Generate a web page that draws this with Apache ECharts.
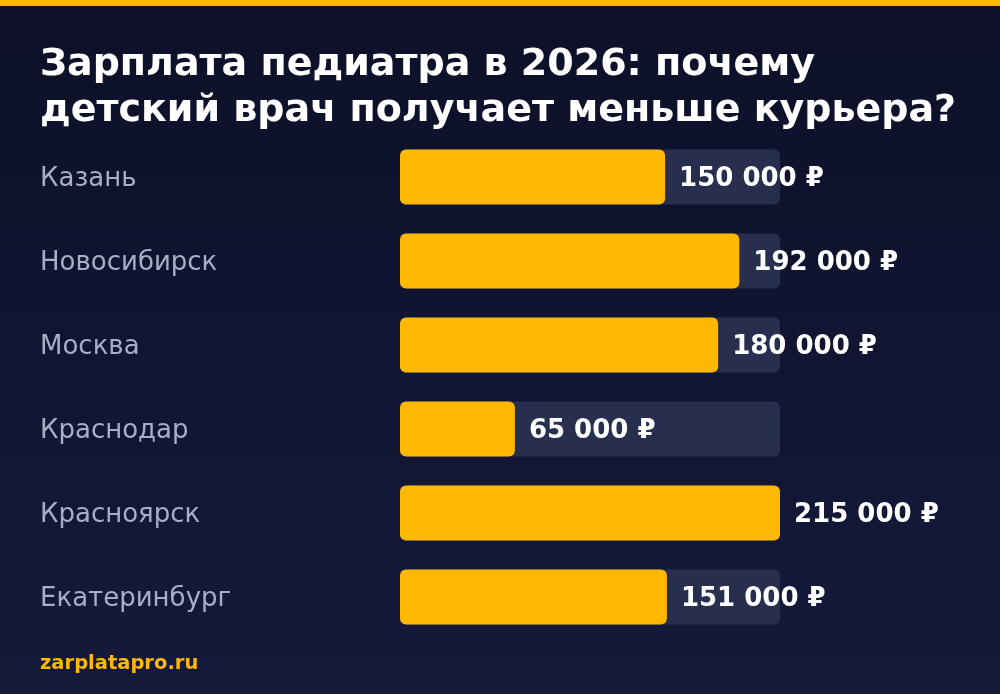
<!DOCTYPE html>
<html><head><meta charset="utf-8">
<script src="https://cdn.jsdelivr.net/npm/echarts@6/dist/echarts.min.js"></script>
<style>html,body{margin:0;padding:0;background:#10142f}#c{width:1000px;height:694px}</style>
</head><body><div id="c"></div>
<script>
const cities = ["Казань","Новосибирск","Москва","Краснодар","Красноярск","Екатеринбург"];
const salaries = [150000,192000,180000,65000,215000,151000];
const maxValue = 215000;
const fmt = v => String(v).replace(/\B(?=(\d{3})+(?!\d))/g, " ") + " ₽";
const F = '"DejaVu Sans", sans-serif';
const chart = echarts.init(document.getElementById('c'));
chart.setOption({
  backgroundColor: {type:'linear',x:0,y:0,x2:0,y2:1,colorStops:[{offset:0,color:'#0d1028'},{offset:1,color:'#151a3b'}]},
  textStyle:{fontFamily:F},
  graphic:[
    {type:'rect',left:0,top:0,shape:{width:1000,height:6},style:{fill:'#FFB800'}},
    {type:'text',left:40,top:42,style:{text:'Зарплата педиатра в 2026: почему\nдетский врач получает меньше курьера?',fill:'#ffffff',font:'bold 38px '+F,lineHeight:46}},
    {type:'text',left:40,top:654,style:{text:'zarplatapro.ru',fill:'#FFB800',font:'bold 19.5px '+F}}
  ],
  grid:{left:400,width:380,top:135,height:504},
  xAxis:{type:'value',min:0,max:maxValue,show:false},
  yAxis:{type:'category',data:cities,inverse:true,axisLine:{show:false},axisTick:{show:false},
    axisLabel:{align:'left',margin:360,formatter:v=>'{a|'+v+'}',
      rich:{a:{color:'#a9adc6',fontSize:26,fontFamily:F,padding:[4,0,0,0]}}}},
  series:[{type:'bar',data:salaries,barWidth:55,
    itemStyle:{color:'#FFB800',borderRadius:6},
    showBackground:true,backgroundStyle:{color:'#282e4e',borderRadius:6},
    label:{show:true,position:'right',distance:14,offset:[0,2],color:'#ffffff',fontSize:26,fontWeight:'bold',fontFamily:F,formatter:p=>fmt(p.value)}
  }]
});
</script></body></html>
